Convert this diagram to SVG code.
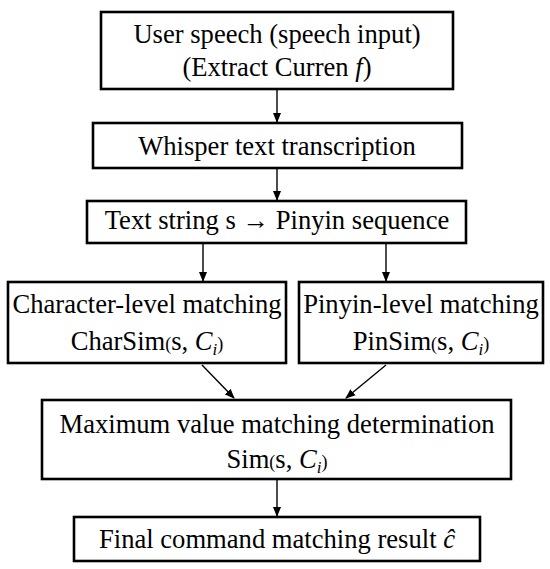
<svg xmlns="http://www.w3.org/2000/svg" width="550" height="569" viewBox="0 0 550 569">
<defs>
<marker id="ah" markerWidth="10" markerHeight="10" refX="9" refY="5" orient="auto" markerUnits="userSpaceOnUse">
<path d="M0,1 L10,5 L0,9 Z" fill="#000"/>
</marker>
<style>
rect{fill:#fff;stroke:#000;stroke-width:2.6}
text{font-size:26.6px;fill:#000;text-anchor:middle}
.p{font-size:18px}
.sub{font-size:17px;font-style:italic}
.c line{stroke:#000;stroke-width:1.4;marker-end:url(#ah)}
</style>
</defs>
<rect x="0" y="0" width="550" height="569" style="fill:#fff;stroke:none"/>
<g font-family="'Liberation Serif', 'Times New Roman', Times, serif">
<g id="n1"><rect x="101" y="12" width="352" height="77"/>
<text x="277" y="43">User speech (speech input)</text>
<text x="277" y="76">(Extract Curren <tspan font-style="italic">f</tspan>)</text></g>
<g id="n2"><rect x="93" y="123" width="369" height="45"/>
<text x="277" y="155">Whisper text transcription</text></g>
<g id="n3"><rect x="87" y="201" width="379" height="42"/>
<text x="277" y="229">Text string s → Pinyin sequence</text></g>
<g id="n4"><rect x="8" y="282" width="278" height="81"/>
<text x="147" y="313">Character-level matching</text>
<text x="147" y="350">CharSim<tspan class="p">(</tspan>s, <tspan font-style="italic">C</tspan><tspan class="sub" dy="5">i</tspan><tspan class="p" dy="-5">)</tspan></text></g>
<g id="n5"><rect x="299" y="282" width="244" height="81"/>
<text x="421" y="313">Pinyin-level matching</text>
<text x="421" y="350">PinSim<tspan class="p">(</tspan>s, <tspan font-style="italic">C</tspan><tspan class="sub" dy="5">i</tspan><tspan class="p" dy="-5">)</tspan></text></g>
<g id="n6"><rect x="42" y="400" width="469" height="79"/>
<text x="277" y="433">Maximum value matching determination</text>
<text x="277" y="468">Sim<tspan class="p">(</tspan>s, <tspan font-style="italic">C</tspan><tspan class="sub" dy="5">i</tspan><tspan class="p" dy="-5">)</tspan></text></g>
<g id="n7"><rect x="74" y="517" width="406" height="44"/>
<text x="277" y="548">Final command matching result <tspan font-style="italic">ĉ</tspan></text></g>
</g>
<g class="c">
<line x1="277" y1="90" x2="277" y2="122"/>
<line x1="277" y1="169" x2="277" y2="200"/>
<line x1="203" y1="244" x2="203" y2="281"/>
<line x1="386" y1="244" x2="386" y2="281"/>
<line x1="202" y1="365" x2="234" y2="398"/>
<line x1="386" y1="365" x2="346" y2="398"/>
<line x1="277" y1="480" x2="277" y2="516"/>
</g>
</svg>
